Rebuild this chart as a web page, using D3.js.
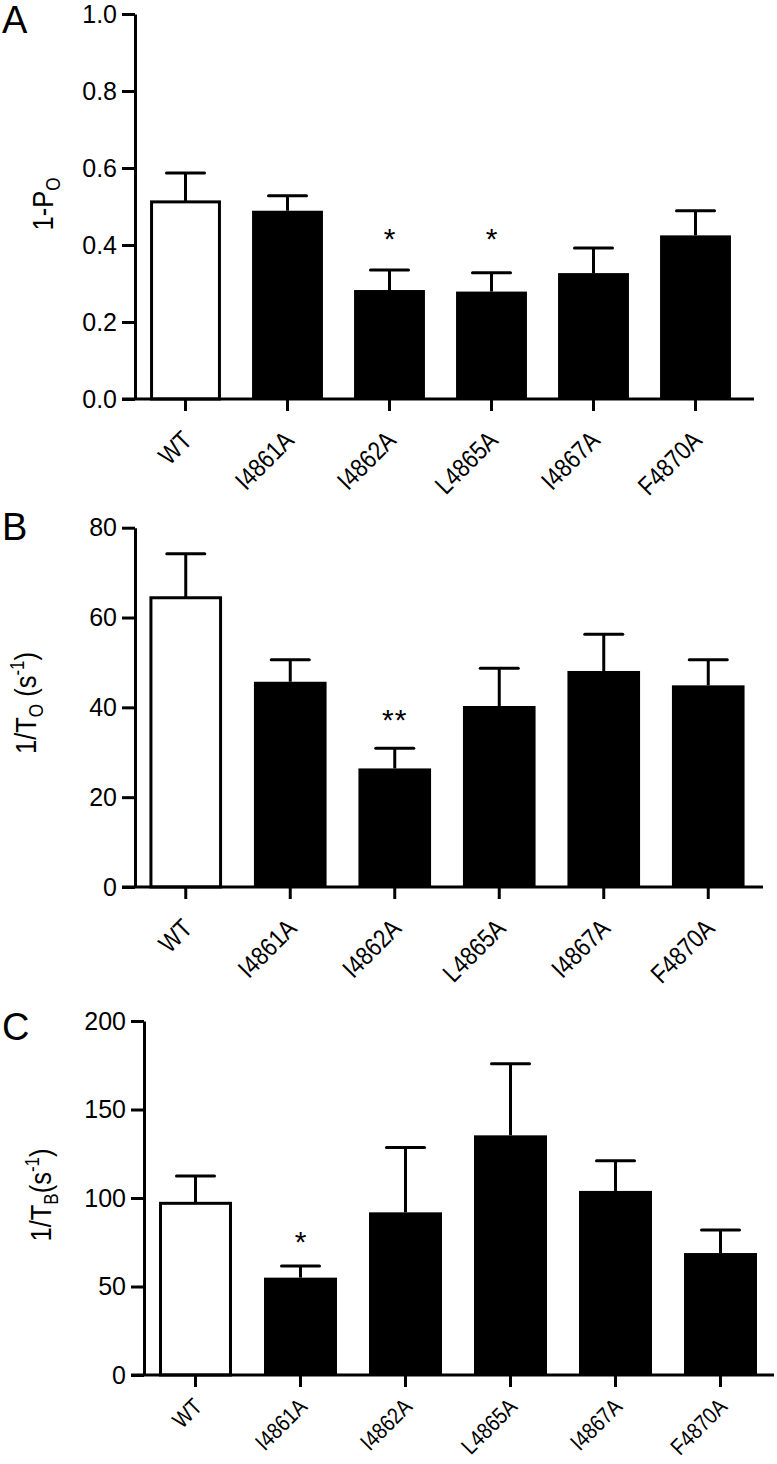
<!DOCTYPE html>
<html><head><meta charset="utf-8">
<script src="https://cdn.jsdelivr.net/npm/d3@7"></script>
<style>
body{margin:0;background:#fff}
svg{display:block}
text{font-family:"Liberation Sans",Arial,Helvetica,sans-serif;fill:#000}
</style>
</head><body>
<svg id="c" width="777" height="1464"></svg>
<script>
// ---- data ----
const categories = ["WT","I4861A","I4862A","L4865A","I4867A","F4870A"];

const poMeans = [0.512, 0.489, 0.283, 0.279, 0.327, 0.425];
const poErr   = [0.075, 0.039, 0.052, 0.049, 0.065, 0.064];
const poStars = ["", "", "*", "*", "", ""];
const poTicks = [0, 0.2, 0.4, 0.6, 0.8, 1.0];

const toMeans = [64.4, 45.7, 26.4, 40.3, 48.1, 44.9];
const toErr   = [9.8, 4.9, 4.5, 8.4, 8.2, 5.7];
const toStars = ["", "", "**", "", "", ""];
const toTicks = [0, 20, 40, 60, 80];

const tbMeans = [97.0, 55.0, 91.9, 135.4, 104.0, 68.9];
const tbErr   = [15.4, 6.6, 36.7, 40.5, 17.1, 13.0];
const tbStars = ["", "*", "", "", "", ""];
const tbTicks = [0, 50, 100, 150, 200];

const svg = d3.select("#c");

function drawPanel(p){
  const g = svg.append("g");
  const x = d3.scaleBand().domain(categories)
    .range([p.bandStart, p.bandEnd]).paddingInner(0.305).paddingOuter(0.1525);
  const y = d3.scaleLinear().domain([0, p.max]).range([p.yBottom, p.yTop]);
  const bw = x.bandwidth();

  // bars
  g.selectAll("rect.bar").data(p.means).join("rect")
    .attr("class","bar")
    .attr("x",(d,i)=> x(categories[i]) + (i===0?1.5:0))
    .attr("y",d=> y(d))
    .attr("width",(d,i)=> i===0? bw-3 : bw)
    .attr("height",d=> y(0)-y(d))
    .attr("fill",(d,i)=> i===0? "#fff":"#000")
    .attr("stroke",(d,i)=> i===0? "#000":"none")
    .attr("stroke-width",3);

  // error bars
  const eb = g.selectAll("g.eb").data(p.means).join("g").attr("class","eb");
  eb.append("line")
    .attr("x1",(d,i)=> x(categories[i])+bw/2).attr("x2",(d,i)=> x(categories[i])+bw/2)
    .attr("y1",d=> y(d)).attr("y2",(d,i)=> y(d+p.errs[i]))
    .attr("stroke","#000").attr("stroke-width",3);
  eb.append("line")
    .attr("x1",(d,i)=> x(categories[i])+bw/2-19).attr("x2",(d,i)=> x(categories[i])+bw/2+19)
    .attr("y1",(d,i)=> y(d+p.errs[i])).attr("y2",(d,i)=> y(d+p.errs[i]))
    .attr("stroke","#000").attr("stroke-width",3).attr("stroke-linecap","round");

  // stars
  g.selectAll("text.star").data(p.stars).join("text")
    .attr("class","star")
    .attr("x",(d,i)=> x(categories[i])+bw/2)
    .attr("y", y(p.starLevel)+17)
    .attr("text-anchor","middle")
    .attr("font-size",30)
    .attr("letter-spacing",(d)=> d.length>1?1:0)
    .text(d=>d);

  // y axis
  const ya = g.append("g").attr("transform",`translate(${p.axisX},0)`)
    .call(d3.axisLeft(y).tickValues(p.ticks).tickFormat(p.fmt).tickSize(13).tickSizeOuter(0).tickPadding(5));
  ya.select(".domain").attr("stroke-width",3);
  ya.selectAll(".tick line").attr("stroke-width",3);
  ya.selectAll(".tick text").attr("font-size",25).attr("font-family",null);

  // x axis
  g.append("line").attr("x1",p.axisX-13).attr("x2",p.axisEnd)
    .attr("y1",p.yBottom).attr("y2",p.yBottom)
    .attr("stroke","#000").attr("stroke-width",3);
  const xa = g.append("g").attr("transform",`translate(0,${p.yBottom})`)
    .call(d3.axisBottom(x).tickSize(12).tickSizeOuter(0));
  xa.select(".domain").remove();
  xa.selectAll(".tick line").attr("stroke-width",3);
  xa.selectAll(".tick text")
    .attr("font-size",p.labelSize).attr("font-family",null)
    .attr("x",0).attr("y",0).attr("dy",0)
    .attr("text-anchor","end")
    .attr("transform",`translate(8,${p.labelOffset}) rotate(-45) scale(0.85,1)`);

  // title
  const t = g.append("text")
    .attr("transform",`translate(${p.titleX},${p.titleY}) rotate(-90) scale(0.85,1)`)
    .attr("text-anchor","middle").attr("font-size",30);
  p.title.forEach(part=>{
    const ts = t.append("tspan").text(part.t);
    if(part.sub){ ts.attr("font-size",20).attr("dy",7); }
    else if(part.sup){ ts.attr("font-size",20).attr("dy",-12); }
    if(part.dy!==undefined) ts.attr("dy",part.dy);
  });

  // panel letter
  g.append("text").attr("x",2).attr("y",p.letterY).attr("font-size",38).text(p.letter);
}

drawPanel({
  means: poMeans, errs: poErr, stars: poStars, ticks: poTicks, fmt: d3.format(".1f"),
  max: 1.0, yBottom: 399, yTop: 14, axisX: 135, axisEnd: 754,
  bandStart: 134.5, bandEnd: 746.5, starLevel: 0.435,
  labelSize: 26, labelOffset: 43,
  titleX: 53, titleY: 204, letter: "A", letterY: 33,
  title: [{t:"1-P"},{t:"O",sub:true}]
});

drawPanel({
  means: toMeans, errs: toErr, stars: toStars, ticks: toTicks, fmt: d3.format("d"),
  max: 80, yBottom: 887, yTop: 527.7, axisX: 135, axisEnd: 763,
  bandStart: 133.5, bandEnd: 760.5, starLevel: 38.8,
  labelSize: 26, labelOffset: 43,
  titleX: 36, titleY: 703, letter: "B", letterY: 540,
  title: [{t:"1/T"},{t:"O",sub:true},{t:" (s",dy:-7},{t:"-1",sup:true},{t:")",dy:12}]
});

drawPanel({
  means: tbMeans, errs: tbErr, stars: tbStars, ticks: tbTicks, fmt: d3.format("d"),
  max: 200, yBottom: 1375, yTop: 1021, axisX: 144, axisEnd: 774,
  bandStart: 143, bandEnd: 773, starLevel: 79,
  labelSize: 23, labelOffset: 33,
  titleX: 51, titleY: 1195, letter: "C", letterY: 1040,
  title: [{t:"1/T"},{t:"B",sub:true},{t:"(s",dy:-7},{t:"-1",sup:true},{t:")",dy:12}]
});
</script>
</body></html>
